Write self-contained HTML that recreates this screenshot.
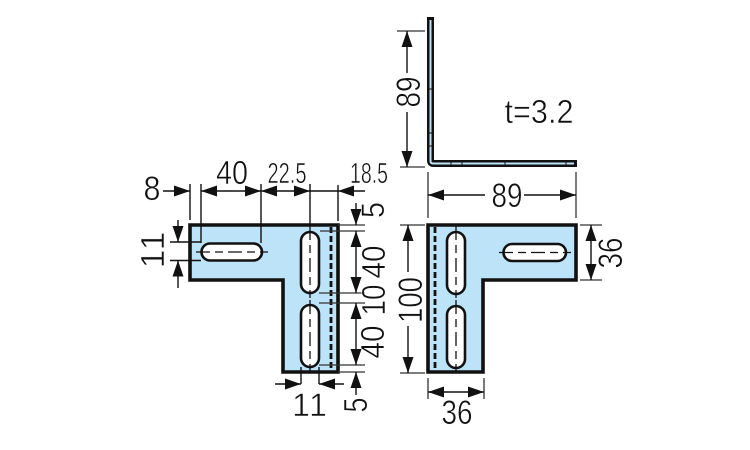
<!DOCTYPE html>
<html><head><meta charset="utf-8"><style>
html,body{margin:0;padding:0;background:#fff;width:750px;height:450px;overflow:hidden}
svg{display:block}
text{font-family:"Liberation Sans",sans-serif;fill:#111;stroke:#fff;stroke-width:.55;text-anchor:middle}
.d{stroke:#111;stroke-width:1.4;fill:none}
.g{stroke:#333;stroke-width:1.3;fill:none}
.p{fill:#bde3f8;stroke:#111;stroke-width:3.6}
.s{fill:#fff;stroke:#111;stroke-width:2.6}
.c{stroke:#111;stroke-width:1.3;stroke-dasharray:14 5 8 5;fill:none}
.h{stroke:#111;stroke-width:2.8;stroke-dasharray:6 3;fill:none}
</style></head><body>
<svg width="750" height="450" viewBox="0 0 750 450" xmlns="http://www.w3.org/2000/svg">
<defs>
<marker id="a" viewBox="0 0 16 11" refX="16" refY="5.500" markerWidth="16" markerHeight="11" markerUnits="userSpaceOnUse" orient="auto-start-reverse"><path d="M0 0L16 5.500L0 11Z" fill="#111"/></marker>
</defs>

<!-- Left plate -->
<path class="p" d="M190 225H338V372H283V280H190Z"/>
<path class="h" d="M331 227V370"/>
<rect class="s" x="201.500" y="243.500" width="60.500" height="17" rx="8.500"/>
<rect class="s" x="301" y="232" width="18" height="61" rx="9"/>
<rect class="s" x="301" y="305" width="18" height="62" rx="9"/>
<path class="c" d="M196 252H268"/>
<path class="c" d="M310 226V298"/>
<path class="c" d="M310 300V372"/>

<!-- Left plate dimensions -->
<path class="d" d="M190 184V220M201 184V243M261 184V243M310 184V226M338 185V221"/>
<path class="d" d="M163 191H190" marker-end="url(#a)"/>
<path class="d" d="M201 191H261" marker-start="url(#a)" marker-end="url(#a)"/>
<path class="d" d="M261 191H310" marker-start="url(#a)" marker-end="url(#a)"/>
<path class="d" d="M365 191H338" marker-end="url(#a)"/>
<path class="d" d="M310 191H338"/>
<text x="152" y="200" font-size="34" textLength="17" lengthAdjust="spacingAndGlyphs">8</text>
<text x="232" y="184" font-size="33" textLength="32" lengthAdjust="spacingAndGlyphs">40</text>
<text x="287" y="183" font-size="29" textLength="39" lengthAdjust="spacingAndGlyphs">22.5</text>
<text x="369" y="183" font-size="29" textLength="38" lengthAdjust="spacingAndGlyphs">18.5</text>

<path class="d" d="M170 242H201M170 260.500H201"/>
<path class="d" d="M178 220V242" marker-end="url(#a)"/>
<path class="d" d="M178 288V260.500" marker-end="url(#a)"/>
<text transform="translate(164 241) rotate(-90)" font-size="33">1</text>
<text transform="translate(164 259) rotate(-90)" font-size="33">1</text>

<path class="g" d="M338 225H365M320 231H365M319 293H365M319 303H365M319 365H365M338 372H365"/>
<path class="d" d="M356 203V225" marker-end="url(#a)"/>
<path class="d" d="M356 231V293" marker-start="url(#a)" marker-end="url(#a)"/>
<path class="d" d="M356 303V365" marker-start="url(#a)" marker-end="url(#a)"/>
<path class="d" d="M356 395V372" marker-end="url(#a)"/>
<text transform="translate(384 210) rotate(-90)" font-size="32" textLength="16" lengthAdjust="spacingAndGlyphs">5</text>
<text transform="translate(385 262) rotate(-90)" font-size="33" textLength="33" lengthAdjust="spacingAndGlyphs">40</text>
<text transform="translate(385 300) rotate(-90)" font-size="33" textLength="31" lengthAdjust="spacingAndGlyphs">10</text>
<text transform="translate(384 342) rotate(-90)" font-size="33" textLength="33" lengthAdjust="spacingAndGlyphs">40</text>
<text transform="translate(367 405) rotate(-90)" font-size="33" textLength="15" lengthAdjust="spacingAndGlyphs">5</text>

<path class="d" d="M301 367V384M319 367V384"/>
<path class="d" d="M275 384H301" marker-end="url(#a)"/>
<path class="d" d="M344 384H319" marker-end="url(#a)"/>
<text x="301" y="416" font-size="32">1</text>
<text x="318" y="416" font-size="32">1</text>

<!-- Top view -->
<path d="M430.500 17V160.500Q430.500 163.500 433.500 163.500H577" fill="none" stroke="#111" stroke-width="7"/>
<path d="M430.500 20V161Q430.500 163.500 433 163.500H574" fill="none" stroke="#bde3f8" stroke-width="2"/>
<path d="M427 89H434M427 133H434M427 146H434M451 160V167M462 160V167M505 160V167M566 160V167" stroke="#111" stroke-width="1"/>
<path class="g" d="M397 31H425M400 167H425M428 172V218M576 172V218" stroke-width="1"/>
<path class="d" d="M407 73V31" marker-end="url(#a)"/>
<path class="d" d="M407 112V167" marker-end="url(#a)"/>
<path class="d" d="M485 195H428" marker-end="url(#a)"/>
<path class="d" d="M524 195H576" marker-end="url(#a)"/>
<text transform="translate(420 92) rotate(-90)" font-size="34" textLength="31" lengthAdjust="spacingAndGlyphs">89</text>
<text x="507" y="207" font-size="34" textLength="31" lengthAdjust="spacingAndGlyphs">89</text>
<text x="539" y="123" font-size="33" textLength="69" lengthAdjust="spacingAndGlyphs">t=3.2</text>

<!-- Right plate -->
<path class="p" d="M428 225H576V280H483V372H428Z"/>
<path class="h" d="M435 227V370"/>
<rect class="s" x="447" y="232" width="18" height="62" rx="9"/>
<rect class="s" x="447" y="306" width="18" height="62" rx="9"/>
<rect class="s" x="503.500" y="244" width="62.500" height="17" rx="8.500"/>
<path class="c" d="M456 226V298"/>
<path class="c" d="M456 300V372"/>
<path class="c" d="M499 252.500H571"/>

<!-- Right plate dimensions -->
<path class="g" d="M400 225H425M400 373H425M580 225H602M580 280H602M428 378V399M484 378V399"/>
<path class="d" d="M408 272V225" marker-end="url(#a)"/>
<path class="d" d="M408 326V373" marker-end="url(#a)"/>
<path class="d" d="M591 225V280" marker-start="url(#a)" marker-end="url(#a)"/>
<path class="d" d="M428 392H484" marker-start="url(#a)" marker-end="url(#a)"/>
<text transform="translate(422 300) rotate(-90)" font-size="34" textLength="46" lengthAdjust="spacingAndGlyphs">100</text>
<text transform="translate(622 253) rotate(-90)" font-size="34" textLength="31" lengthAdjust="spacingAndGlyphs">36</text>
<text x="457" y="424" font-size="34" textLength="31" lengthAdjust="spacingAndGlyphs">36</text>
</svg>
</body></html>
